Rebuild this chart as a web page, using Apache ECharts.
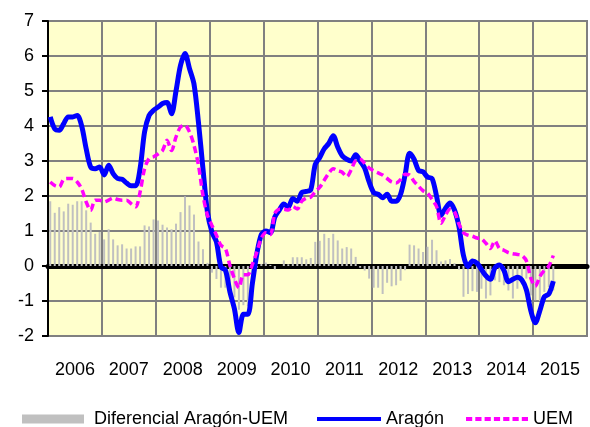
<!DOCTYPE html>
<html>
<head>
<meta charset="utf-8">
<script src="https://cdn.jsdelivr.net/npm/echarts@6/dist/echarts.min.js"></script>
<style>
  html, body { margin: 0; padding: 0; background: #ffffff; }
  #chart { width: 590px; height: 427px; }
</style>
</head>
<body>
<div id="chart"></div>
<script>
// años del eje (etiquetas)
const years = ['2006', '2007', '2008', '2009', '2010', '2011', '2012', '2013', '2014', '2015'];

// meses ene-2006 .. dic-2015 (categorías del eje oculto)
const months = [];
years.forEach(y => {
    for (let m = 1; m <= 12; m++) months.push(y + '-' + (m < 10 ? '0' + m : m));
});

// IPC interanual Aragón (%), ene-2006 .. may-2015
const aragon = [
    4.26, 3.92, 3.88, 4.07, 4.26, 4.26, 4.3, 4.0, 3.35, 2.83, 2.78, 2.83,
    2.6, 2.88, 2.64, 2.5, 2.48, 2.37, 2.29, 2.29, 2.78, 3.83, 4.3, 4.45,
    4.54, 4.64, 4.67, 4.35, 5.0, 5.73, 6.07, 5.64, 5.2, 4.1, 2.78, 1.54,
    0.97, 0.69, -0.03, -0.12, -0.74, -1.22, -1.9, -1.38, -1.38, -0.5, 0.35, 0.9,
    1.0, 0.95, 1.4, 1.6, 1.77, 1.68, 1.93, 1.85, 2.1, 2.13, 2.18, 2.9,
    3.1, 3.35, 3.5, 3.72, 3.4, 3.15, 3.05, 3.0, 3.18, 3.0, 2.8, 2.4,
    2.1, 2.05, 1.95, 2.05, 1.85, 1.85, 2.05, 2.6, 3.22, 3.05, 2.73, 2.69,
    2.54, 2.5, 2.0, 1.45, 1.65, 1.8, 1.6, 1.12, 0.3, -0.02, 0.14, 0.08,
    -0.1, -0.28, -0.38, -0.05, 0.03, -0.12, -0.45, -0.38, -0.32, -0.4, -0.68, -1.28,
    -1.62, -1.28, -0.88, -0.8, -0.43
];

// IPC interanual UEM (%)
const uem = [
    2.4, 2.3, 2.26, 2.48, 2.5, 2.5, 2.4, 2.2, 1.83, 1.59, 1.88, 1.88,
    1.83, 1.88, 1.94, 1.9, 1.88, 1.88, 1.78, 1.69, 2.11, 2.78, 3.07, 3.12,
    3.2, 3.3, 3.59, 3.3, 3.69, 3.97, 4.02, 3.83, 3.45, 2.88, 2.02, 1.45,
    1.16, 0.88, 0.59, 0.5, 0.02, -0.36, -0.62, -0.25, -0.25, 0.05, 0.4, 0.8,
    0.95, 0.9, 1.5, 1.62, 1.62, 1.6, 1.7, 1.63, 1.85, 1.94, 1.97, 2.12,
    2.25, 2.45, 2.65, 2.78, 2.72, 2.68, 2.55, 2.75, 3.02, 3.05, 2.93, 2.8,
    2.72, 2.66, 2.6, 2.5, 2.4, 2.37, 2.47, 2.62, 2.6, 2.42, 2.28, 2.15,
    2.08, 1.9, 1.7, 1.22, 1.45, 1.62, 1.55, 1.2, 0.95, 0.88, 0.85, 0.8,
    0.78, 0.65, 0.5, 0.72, 0.5, 0.45, 0.38, 0.35, 0.33, 0.3, 0.15, -0.35,
    -0.58, -0.3, -0.12, 0.0, 0.3
];

// diferencial Aragón-UEM (puntos)
const diferencial = [
    1.85, 1.52, 1.68, 1.56, 1.78, 1.75, 1.85, 1.85, 1.59, 1.24, 0.92, 0.97,
    0.76, 1.05, 0.76, 0.59, 0.62, 0.5, 0.5, 0.56, 0.56, 1.16, 1.13, 1.33,
    1.3, 1.18, 1.1, 1.05, 1.21, 1.54, 1.99, 1.73, 1.47, 0.7, 0.48, 0.09,
    -0.19, -0.37, -0.62, -0.62, -0.76, -0.9, -1.25, -1.12, -1.15, -0.55, -0.05, 0.06,
    0.1, 0.03, -0.1, 0.0, 0.16, 0.05, 0.25, 0.25, 0.25, 0.19, 0.23, 0.69,
    0.72, 0.92, 0.8, 0.92, 0.73, 0.5, 0.54, 0.5, 0.26, -0.05, -0.13, -0.36,
    -0.62, -0.62, -0.8, -0.48, -0.58, -0.55, -0.42, -0.12, 0.61, 0.59, 0.5, 0.4,
    0.55, 0.75, 0.45, 0.13, 0.16, 0.2, 0.08, -0.1, -0.88, -0.8, -0.72, -0.74,
    -0.65, -0.93, -0.84, -0.41, -0.46, -0.55, -0.7, -0.93, -0.65, -0.46, -0.36, -0.84,
    -0.98, -1.0, -0.74, -0.6, -0.7
];

const yTicks = [-2, -1, 0, 1, 2, 3, 4, 5, 6, 7];

const font = "'Liberation Sans', Arial, sans-serif";

// iconos de leyenda: línea continua y línea discontinua (64x4)
const solidIcon = 'path://M0,0h64v4h-64z';
const dashIcon = 'path://M0,0h6v4h-6z M9,0h6v4h-6z M18,0h6v4h-6z M27,0h6v4h-6z M36,0h6v4h-6z M45,0h6v4h-6z M54,0h6v4h-6z';

const legendText = { fontSize: 18, color: '#000', fontFamily: font };

const chart = echarts.init(document.getElementById('chart'));

const option = {
    animation: false,
    textStyle: { fontFamily: font },
    grid: {
        left: 48,
        right: 3,
        top: 21,
        bottom: 91,
        show: true,
        backgroundColor: '#FFFFCC',
        borderColor: '#808080',
        borderWidth: 2
    },
    legend: [
        {
            left: 22, top: 410, padding: 0,
            data: ['Diferencial Aragón-UEM'],
            icon: 'rect', itemWidth: 62, itemHeight: 9,
            textStyle: Object.assign({ padding: [0, 0, 0, 5] }, legendText)
        },
        {
            left: 317, top: 410, padding: 0,
            data: ['Aragón'],
            icon: solidIcon, itemWidth: 64, itemHeight: 4,
            symbolKeepAspect: false,
            textStyle: legendText
        },
        {
            left: 466, top: 410, padding: 0,
            data: ['UEM'],
            icon: dashIcon, itemWidth: 62, itemHeight: 4,
            symbolKeepAspect: false,
            textStyle: legendText
        }
    ],
    xAxis: [
        {
            type: 'category',
            data: years,
            boundaryGap: true,
            position: 'bottom',
            axisLine: { show: false, onZero: false },
            axisTick: { show: false },
            axisLabel: { fontSize: 18, color: '#000', margin: 25, fontFamily: font },
            splitLine: { show: true, interval: 0, lineStyle: { color: '#808080', width: 2 } }
        },
        {
            type: 'category',
            data: months,
            boundaryGap: true,
            position: 'bottom',
            axisLine: { show: true, onZero: true, lineStyle: { color: '#000', width: 5 } },
            axisTick: { show: false },
            axisLabel: { show: false },
            splitLine: { show: false }
        }
    ],
    yAxis: {
        type: 'value',
        min: yTicks[0],
        max: yTicks[yTicks.length - 1],
        interval: 1,
        axisLine: { show: true, lineStyle: { color: '#000', width: 2 } },
        axisTick: { show: true, length: 6, lineStyle: { color: '#000', width: 2 } },
        axisLabel: { fontSize: 18, color: '#000', margin: 14, fontFamily: font },
        splitLine: { show: true, lineStyle: { color: '#808080', width: 2 } }
    },
    series: [
        {
            name: 'Diferencial Aragón-UEM',
            type: 'bar',
            xAxisIndex: 1,
            data: diferencial,
            barWidth: 2,
            itemStyle: { color: '#C0C0C0' }
        },
        {
            name: 'Aragón',
            type: 'line',
            xAxisIndex: 1,
            data: aragon,
            smooth: 0.3,
            symbol: 'none',
            lineStyle: { color: '#0000FF', width: 5 },
            itemStyle: { color: '#0000FF' }
        },
        {
            name: 'UEM',
            type: 'line',
            xAxisIndex: 1,
            data: uem,
            smooth: 0.3,
            symbol: 'none',
            lineStyle: { color: '#FF00FF', width: 3.5, type: [7, 4] },
            itemStyle: { color: '#FF00FF' }
        }
    ]
};

chart.setOption(option);
</script>
</body>
</html>
